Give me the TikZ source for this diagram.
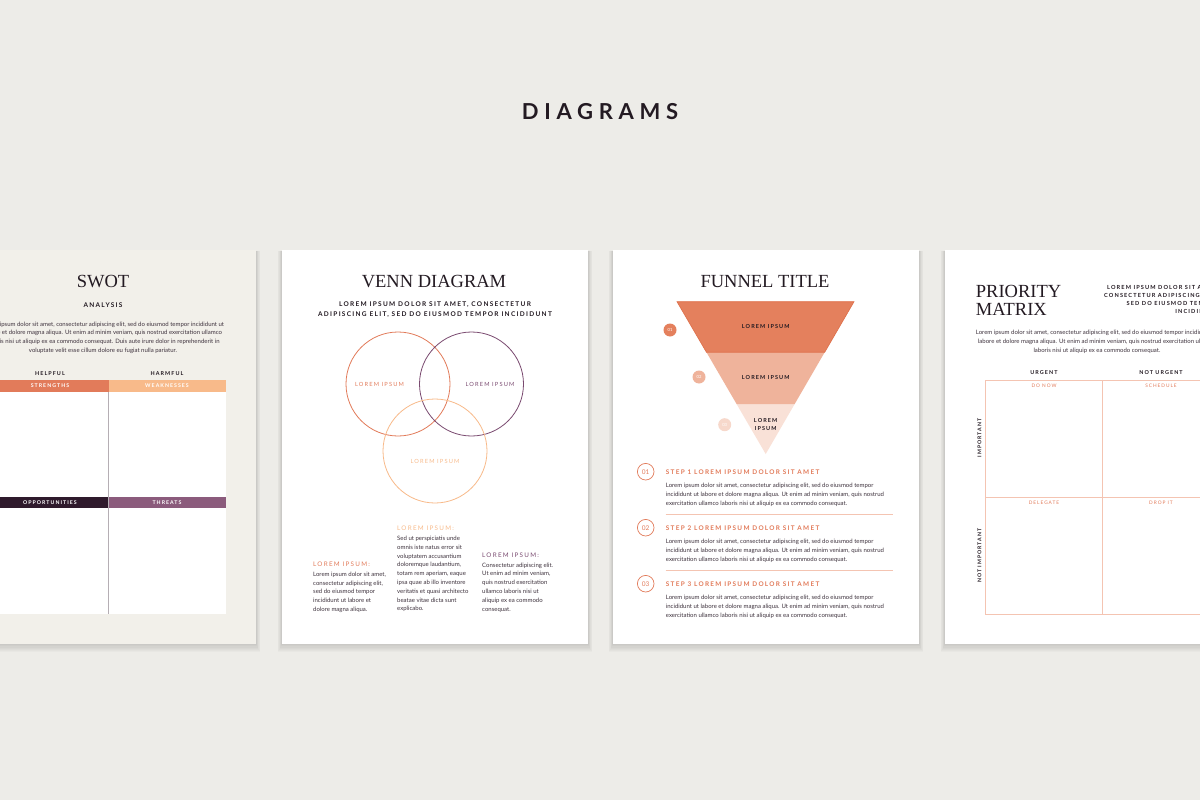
\documentclass[tikz,border=0pt]{standalone}
\usepackage{fontspec}
\setmainfont{Lato}
\newfontfamily\serifT{Liberation Serif}
\newfontfamily\capsf[LetterSpace=20]{Lato}
\newfontfamily\capsw[LetterSpace=26]{Lato}
\usetikzlibrary{calc}

\definecolor{bgc}{HTML}{EDECE8}
\definecolor{beige}{HTML}{F2F0EA}
\definecolor{darkc}{HTML}{231A22}
\definecolor{bodyc}{HTML}{3F333E}
\definecolor{orng}{HTML}{E27B5A}
\definecolor{peach}{HTML}{F8BA8A}
\definecolor{plum}{HTML}{2F1A2C}
\definecolor{mauve}{HTML}{8B5B7C}
\definecolor{vpurp}{HTML}{7A4A70}
\definecolor{fun1}{HTML}{E4805D}
\definecolor{fun1e}{HTML}{DE6E48}
\definecolor{fun2}{HTML}{EFB39B}
\definecolor{fun3}{HTML}{F9E1D7}
\definecolor{salmon}{HTML}{F4C4B2}
\definecolor{lbl}{HTML}{E27B5A}
\definecolor{gline}{HTML}{B5AEB4}

\tikzset{
 txt/.style={inner sep=0pt, anchor=base},
 ptitle/.style={txt, font=\serifT\fontsize{18.5}{20}\selectfont, text=darkc},
 body/.style={txt, font=\fontsize{6}{8.8}\selectfont, text=bodyc},
 capb/.style={txt, font=\capsf\bfseries\fontsize{#1}{#1}\selectfont, text=darkc},
 capr/.style={txt, font=\capsf\fontsize{#1}{#1}\selectfont},
 shadowlayer/.style={fill=black, opacity=0.018},
 venncircle/.style={line width=0.8},
 matrixline/.style={salmon, line width=0.8},
}

\newcommand\pageshadow[4]{\foreach \s in {1,...,7}{\fill[shadowlayer] (#1-0.6*\s,#2+1) rectangle (#3+0.6*\s,#4+1.2*\s);}}
\newcommand\txtlines[6]{\foreach \myline [count=\k from 0] in {#6}{\node[#5,anchor=#4] at (#1,#2+#3*\k) {\myline};}}

\begin{document}
\begin{tikzpicture}[x=1pt,y=-1pt]
\useasboundingbox (0,0) rectangle (1200,800);
\clip (0,0) rectangle (1200,800);
\fill[bgc] (0,0) rectangle (1200,800);

\node[txt, font=\capsw\bfseries\fontsize{22}{22}\selectfont, text=darkc] (title) at (600,119) {DIAGRAMS};

% ---------- SWOT page
\pageshadow{-50}{250}{256}{644}
\fill[beige] (-50,250) rectangle (256,644);
\node[ptitle] (swot) at (103,287) {SWOT};
\node[capb=6.5] (analysis) at (103,307.3) {ANALYSIS};
\txtlines{103}{326}{8.7}{base}{body}{{Lorem ipsum dolor sit amet, consectetur adipiscing elit, sed do eiusmod tempor incididunt ut},{labore et dolore magna aliqua. Ut enim ad minim veniam, quis nostrud exercitation ullamco},{laboris nisi ut aliquip ex ea commodo consequat. Duis aute irure dolor in reprehenderit in},{voluptate velit esse cillum dolore eu fugiat nulla pariatur.}}
\node[capb=5.4] (helpful) at (50,375) {HELPFUL};
\node[capb=5.4] (harmful) at (167,375) {HARMFUL};
\fill[white] (-20,380) rectangle (226,614);
\fill[orng] (-20,380) rectangle (108.5,391.5);
\fill[peach] (108.5,380) rectangle (226,391.5);
\fill[plum] (-20,497) rectangle (108.5,508);
\fill[mauve] (108.5,497) rectangle (226,508);
\draw[gline, line width=0.6] (108.5,391.5) -- (108.5,614);
\node[capb=5.2, text=white] (str) at (50,387.7) {STRENGTHS};
\node[capb=5.2, text=white] (weak) at (167,387.7) {WEAKNESSES};
\node[capb=5.2, text=white] (opp) at (50,504.7) {OPPORTUNITIES};
\node[capb=5.2, text=white] (thr) at (167,504.7) {THREATS};

% ---------- Venn page
\pageshadow{282}{250}{588}{644}
\fill[white] (282,250) rectangle (588,644);
\node[ptitle] (venn) at (434,287) {VENN DIAGRAM};
\node[capb=6.5] (vs1) at (435,306.7) {LOREM IPSUM DOLOR SIT AMET, CONSECTETUR};
\node[capb=6.5] (vs2) at (435,316.7) {ADIPISCING ELIT, SED DO EIUSMOD TEMPOR INCIDIDUNT};
\draw[venncircle, orng] (398,384) circle (52);
\draw[venncircle, vpurp] (471.5,384) circle (52);
\draw[venncircle, peach] (435,451) circle (52);
\node[capr=5.7, text=orng] (vl1) at (379.5,386.3) {LOREM IPSUM};
\node[capr=5.7, text=vpurp] (vl2) at (490,386.3) {LOREM IPSUM};
\node[capr=5.7, text=peach] (vl3) at (435,463.7) {LOREM IPSUM};
\node[capr=6.3, text=orng, anchor=base west] (c1h) at (313,566.7) {LOREM IPSUM:};
\txtlines{313}{576.3}{8.7}{base west}{body}{{Lorem ipsum dolor sit amet,},{consectetur adipiscing elit,},{sed do eiusmod tempor},{incididunt ut labore et},{dolore magna aliqua.}}
\node[capr=6.3, text=peach, anchor=base west] (c2h) at (397,530.7) {LOREM IPSUM:};
\txtlines{397}{540.5}{8.8}{base west}{body}{{Sed ut perspiciatis unde},{omnis iste natus error sit},{voluptatem accusantium},{doloremque laudantium,},{totam rem aperiam, eaque},{ipsa quae ab illo inventore},{veritatis et quasi architecto},{beatae vitae dicta sunt},{explicabo.}}
\node[capr=6.3, text=vpurp, anchor=base west] (c3h) at (482,557.7) {LOREM IPSUM:};
\txtlines{482}{567}{8.8}{base west}{body}{{Consectetur adipiscing elit.},{Ut enim ad minim veniam,},{quis nostrud exercitation},{ullamco laboris nisi ut},{aliquip ex ea commodo},{consequat.}}

% ---------- Funnel page
\pageshadow{613}{250}{919}{644}
\fill[white] (613,250) rectangle (919,644);
\node[ptitle] (funnel) at (765,287) {FUNNEL TITLE};
\coordinate (fTL) at (677,301.7);
\coordinate (fTR) at (854,301.7);
\coordinate (fA) at (765.7,454);
\coordinate (m1L) at ($(fTL)!0.3322!(fA)$);
\coordinate (m1R) at ($(fTR)!0.3322!(fA)$);
\coordinate (m2L) at ($(fTL)!0.6717!(fA)$);
\coordinate (m2R) at ($(fTR)!0.6717!(fA)$);
\fill[fun3] (m2L) -- (m2R) -- (fA) -- cycle;
\fill[fun2] (m1L) -- (m1R) -- (m2R) -- (m2L) -- cycle;
\filldraw[fill=fun1, draw=fun1e, line width=0.6] (fTL) -- (fTR) -- (m1R) -- (m1L) -- cycle;
\node[capb=5.5] (fl1) at (765.7,328.7) {LOREM IPSUM};
\node[capb=5.5] (fl2) at (765.7,379.7) {LOREM IPSUM};
\node[capb=5.5] (fl3a) at (765.7,422) {LOREM};
\node[capb=5.5] (fl3b) at (765.7,430) {IPSUM};
\fill[fun1] (670,330) circle (6.5);
\fill[fun2] (699,377) circle (6.5);
\fill[fun3!80!fun2] (724.7,424.7) circle (6.5);
\node[txt, anchor=center, font=\fontsize{4.2}{4}\selectfont, text=white] (b1) at (670,330) {01};
\node[txt, anchor=center, font=\fontsize{4.2}{4}\selectfont, text=white] (b2) at (699,377) {02};
\node[txt, anchor=center, font=\fontsize{4.2}{4}\selectfont, text=white] (b3) at (724.7,424.7) {03};
\foreach \i/\stepno in {0/1,1/2,2/3}{
 \draw[orng, line width=0.7] (645.7,471.7+56*\i) circle (8.3);
 \node[txt, anchor=center, font=\fontsize{6.5}{6}\selectfont, text=orng] at (645.7,471.7+56*\i) {0\stepno};
 \node[capb=6.4, text=orng, anchor=base west] at (665.7,474+56*\i) {STEP \stepno\ LOREM IPSUM DOLOR SIT AMET};
 \txtlines{665.7}{487.5+56*\i}{8.9}{base west}{body}{{Lorem ipsum dolor sit amet, consectetur adipiscing elit, sed do eiusmod tempor},{incididunt ut labore et dolore magna aliqua. Ut enim ad minim veniam, quis nostrud},{exercitation ullamco laboris nisi ut aliquip ex ea commodo consequat.}}
}
\draw[salmon, line width=0.6] (665.7,514.3) -- (893,514.3);
\draw[salmon, line width=0.6] (665.7,570.3) -- (893,570.3);

% ---------- Priority page
\pageshadow{945}{250}{1251}{644}
\fill[white] (945,250) rectangle (1251,644);
\node[ptitle, anchor=base west] (pr1) at (975.7,297.7) {PRIORITY};
\node[ptitle, anchor=base west] (pr2) at (975.7,315.7) {MATRIX};
\txtlines{1219}{289}{8.2}{base east}{capb=5.6}{{LOREM IPSUM DOLOR SIT AMET,},{CONSECTETUR ADIPISCING ELIT,},{SED DO EIUSMOD TEMPOR},{INCIDIDUNT}}
\txtlines{1097}{334.5}{9.1}{base}{body}{{Lorem ipsum dolor sit amet, consectetur adipiscing elit, sed do eiusmod tempor incididunt ut},{labore et dolore magna aliqua. Ut enim ad minim veniam, quis nostrud exercitation ullamco},{laboris nisi ut aliquip ex ea commodo consequat.}}
\node[capb=5.4] (urg) at (1044,374.7) {URGENT};
\node[capb=5.4] (nurg) at (1161,374.7) {NOT URGENT};
\draw[matrixline] (985.7,380) rectangle (1219,614);
\draw[matrixline] (1102.3,380) -- (1102.3,614);
\draw[matrixline] (985.7,497.3) -- (1219,497.3);
\node[capr=4.8, text=lbl] (donow) at (1044,387.7) {DO NOW};
\node[capr=4.8, text=lbl] (sched) at (1161,387.7) {SCHEDULE};
\node[capr=4.8, text=lbl] (deleg) at (1044,504.7) {DELEGATE};
\node[capr=4.8, text=lbl] (drop) at (1161,504.7) {DROP IT};
\node[capb=5.2, rotate=90] (imp) at (981.3,438) {IMPORTANT};
\node[capb=5.2, rotate=90] (nimp) at (981.3,555.7) {NOT IMPORTANT};
\end{tikzpicture}
\end{document}
